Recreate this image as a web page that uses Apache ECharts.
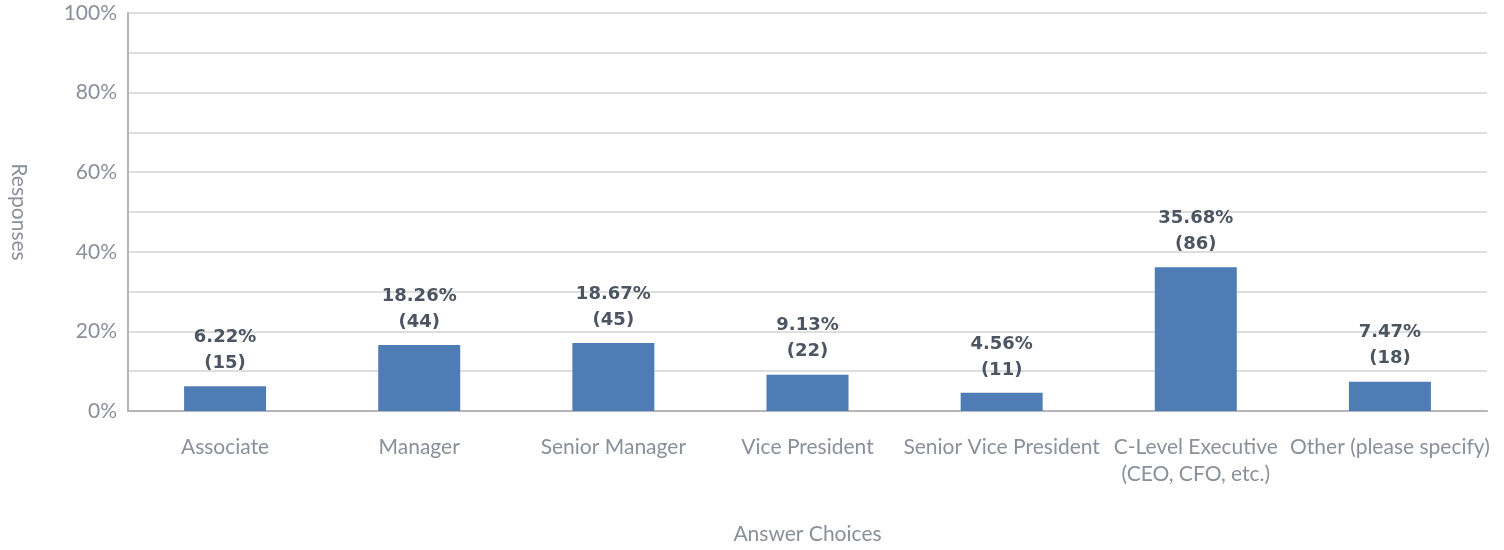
<!DOCTYPE html>
<html>
<head>
<meta charset="utf-8">
<script src="https://cdn.jsdelivr.net/npm/echarts@6/dist/echarts.min.js"></script>
<style>
  html, body { margin: 0; padding: 0; background: #fff; }
  #chart { width: 1504px; height: 550px; }
</style>
</head>
<body>
<div id="chart"></div>
<script>
// answer choices on the x axis
const categories = [
  'Associate',
  'Manager',
  'Senior Manager',
  'Vice President',
  'Senior Vice President',
  'C-Level Executive\n(CEO, CFO, etc.)',
  'Other (please specify)'
]
// bar heights as drawn (percent of responses)
const barValues = [6.22, 16.6, 17.1, 9.13, 4.56, 36.1, 7.35]
// label texts shown above bars
const percentLabels = ['6.22%', '18.26%', '18.67%', '9.13%', '4.56%', '35.68%', '7.47%']
const responseCounts = [15, 44, 45, 22, 11, 86, 18]

const chart = echarts.init(document.getElementById('chart'))

const axisGray = '#8a9099'
const fontFamily = 'Lato, "Open Sans", sans-serif'

chart.setOption({
  animation: false,
  grid: { left: 128, right: 17, top: 13, bottom: 137, containLabel: false },
  xAxis: {
    type: 'category',
    data: categories,
    name: 'Answer Choices',
    nameLocation: 'middle',
    nameGap: 113,
    nameTextStyle: { color: axisGray, fontSize: 21, fontFamily: fontFamily },
    axisLine: { lineStyle: { color: '#b4b6bc', width: 2 } },
    axisTick: { show: false },
    axisLabel: {
      color: axisGray, fontSize: 21, fontFamily: fontFamily,
      margin: 23, lineHeight: 27, interval: 0
    }
  },
  yAxis: {
    type: 'value',
    min: 0,
    max: 100,
    interval: 10,
    name: 'Responses',
    nameLocation: 'middle',
    nameRotate: -90,
    nameGap: 99,
    nameTextStyle: { color: axisGray, fontSize: 21, fontFamily: fontFamily },
    axisLine: { show: true, lineStyle: { color: '#b4b6bc', width: 2 } },
    axisTick: { show: false },
    axisLabel: {
      color: axisGray, fontSize: 21, fontFamily: fontFamily, margin: 11,
      formatter: (v) => (v % 20 === 0 ? v + '%' : '')
    },
    splitLine: { lineStyle: { color: '#dedede', width: 2 } }
  },
  series: [{
    type: 'bar',
    data: barValues,
    barWidth: 82,
    itemStyle: { color: '#507cb5' },
    label: {
      show: true,
      position: 'top',
      distance: 10,
      color: '#4d5562',
      fontFamily: '"DejaVu Sans", Verdana, sans-serif',
      fontWeight: 'bold',
      fontSize: 18,
      lineHeight: 26,
      align: 'center',
      formatter: (p) => percentLabels[p.dataIndex] + '\n(' + responseCounts[p.dataIndex] + ')'
    }
  }]
})
</script>
</body>
</html>
